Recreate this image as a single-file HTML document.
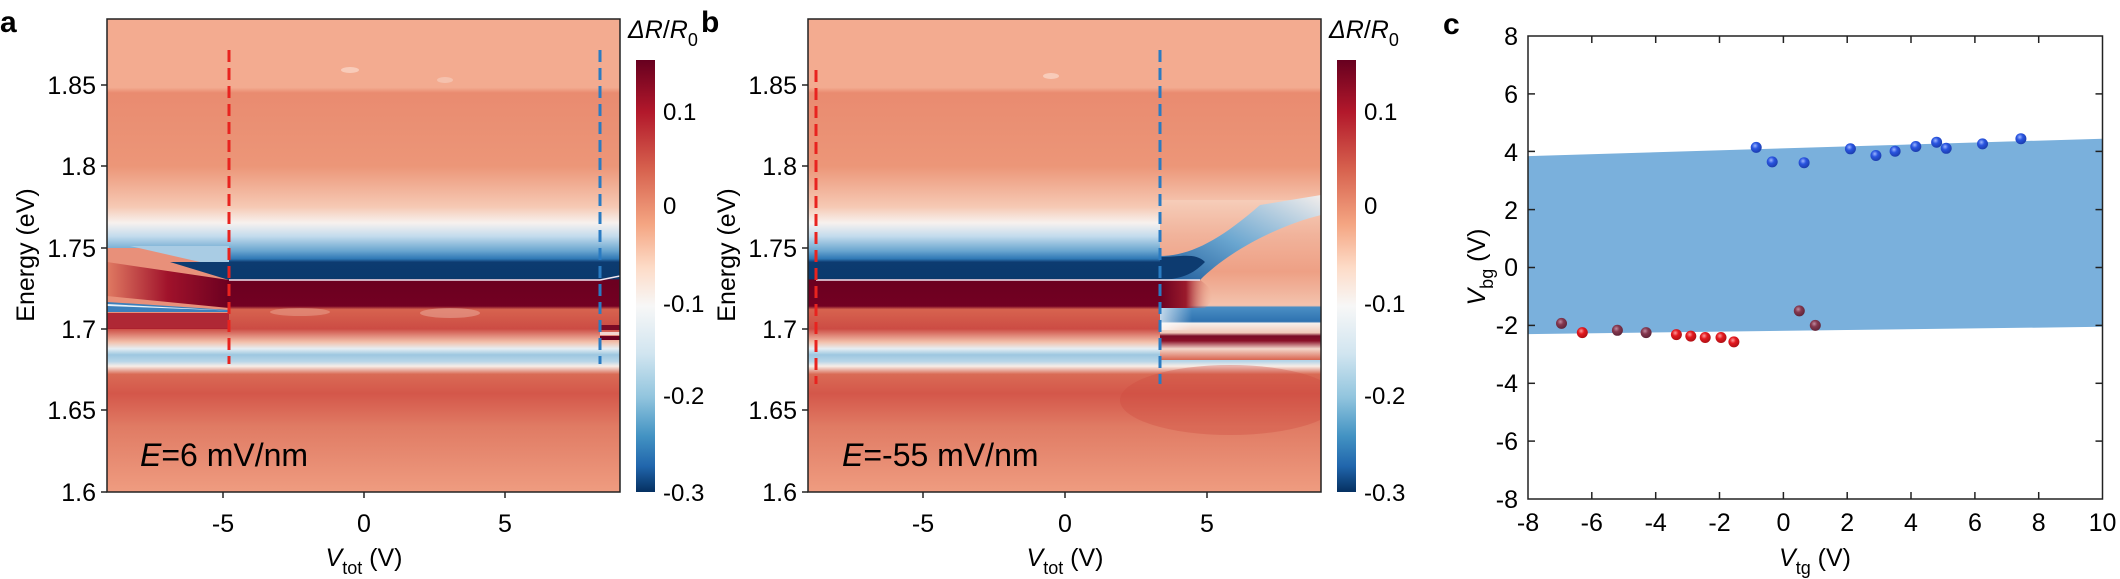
<!DOCTYPE html>
<html><head><meta charset="utf-8"><style>
html,body{margin:0;padding:0;background:#fff;}
svg{display:block;font-family:"Liberation Sans",Arial,sans-serif;}
</style></head><body>
<svg width="2120" height="579" viewBox="0 0 2120 579" xmlns="http://www.w3.org/2000/svg">
<defs>
<linearGradient id="prof" gradientUnits="userSpaceOnUse" x1="0" y1="19" x2="0" y2="492">
<stop offset="0" stop-color="#f3ab90"/>
<stop offset="0.145" stop-color="#f3ab90"/>
<stop offset="0.156" stop-color="#e98b70"/>
<stop offset="0.311" stop-color="#ec9678"/>
<stop offset="0.397" stop-color="#f6c9b4"/>
<stop offset="0.431" stop-color="#f7f1ee"/>
<stop offset="0.459" stop-color="#c4dced"/>
<stop offset="0.49" stop-color="#6aa6d0"/>
<stop offset="0.507" stop-color="#2f78b5"/>
<stop offset="0.514" stop-color="#0d3b70"/>
<stop offset="0.549" stop-color="#0a3a6d"/>
<stop offset="0.552" stop-color="#6b0020"/>
<stop offset="0.607" stop-color="#730022"/>
<stop offset="0.614" stop-color="#d7634f"/>
<stop offset="0.655" stop-color="#cc4c44"/>
<stop offset="0.683" stop-color="#f3c0ab"/>
<stop offset="0.697" stop-color="#e6eef3"/>
<stop offset="0.71" stop-color="#9dc7e0"/>
<stop offset="0.724" stop-color="#b8d6e8"/>
<stop offset="0.734" stop-color="#f7ede7"/>
<stop offset="0.751" stop-color="#d96b55"/>
<stop offset="0.792" stop-color="#d4574a"/>
<stop offset="0.862" stop-color="#e07b64"/>
<stop offset="1" stop-color="#ef9c80"/>
</linearGradient>
<linearGradient id="profR" gradientUnits="userSpaceOnUse" x1="0" y1="200" x2="0" y2="360">
<stop offset="0" stop-color="#f6cdb9"/>
<stop offset="0.22" stop-color="#f1b39b"/>
<stop offset="0.45" stop-color="#eea085"/>
<stop offset="0.66" stop-color="#f3c3ae"/>
<stop offset="0.67" stop-color="#4b8ec4"/>
<stop offset="0.76" stop-color="#2e72b0"/>
<stop offset="0.77" stop-color="#f5efec"/>
<stop offset="0.83" stop-color="#f1c9b8"/>
<stop offset="0.85" stop-color="#7a0a25"/>
<stop offset="0.88" stop-color="#8a1027"/>
<stop offset="0.93" stop-color="#f3d6ca"/>
<stop offset="1" stop-color="#d9654f"/>
</linearGradient>
<linearGradient id="fadeL" x1="0" y1="0" x2="1" y2="0">
<stop offset="0" stop-color="#fff" stop-opacity="0.7"/>
<stop offset="0.4" stop-color="#fff" stop-opacity="0"/>
</linearGradient>
<linearGradient id="cbar" x1="0" y1="0" x2="0" y2="1">
<stop offset="0" stop-color="#67001f"/>
<stop offset="0.12" stop-color="#b2182b"/>
<stop offset="0.25" stop-color="#d6604d"/>
<stop offset="0.38" stop-color="#f4a582"/>
<stop offset="0.48" stop-color="#fddbc7"/>
<stop offset="0.57" stop-color="#f7f7f7"/>
<stop offset="0.68" stop-color="#d1e5f0"/>
<stop offset="0.78" stop-color="#92c5de"/>
<stop offset="0.87" stop-color="#4393c3"/>
<stop offset="0.94" stop-color="#2166ac"/>
<stop offset="1" stop-color="#053061"/>
</linearGradient>
<linearGradient id="dredL" x1="0" y1="0" x2="1" y2="0">
<stop offset="0" stop-color="#e07a62"/>
<stop offset="0.5" stop-color="#a0122b"/>
<stop offset="1" stop-color="#6b0020"/>
</linearGradient>
<linearGradient id="dredR" x1="0" y1="0" x2="1" y2="0">
<stop offset="0" stop-color="#6b0020"/>
<stop offset="0.5" stop-color="#9a1a2c"/>
<stop offset="1" stop-color="#eea085" stop-opacity="0"/>
</linearGradient>
<linearGradient id="bcurve" x1="0" y1="1" x2="1" y2="0">
<stop offset="0" stop-color="#1d5a99"/>
<stop offset="0.45" stop-color="#6aa6d0"/>
<stop offset="1" stop-color="#f3eeec"/>
</linearGradient>
<radialGradient id="gb" cx="0.4" cy="0.35" r="0.7"><stop offset="0" stop-color="#9db6ff"/><stop offset="0.4" stop-color="#2a55e0"/><stop offset="1" stop-color="#1a3aa8"/></radialGradient>
<radialGradient id="gr" cx="0.4" cy="0.35" r="0.7"><stop offset="0" stop-color="#ff9a9a"/><stop offset="0.4" stop-color="#e3191f"/><stop offset="1" stop-color="#a80f14"/></radialGradient>
<radialGradient id="gp" cx="0.4" cy="0.35" r="0.7"><stop offset="0" stop-color="#c08aa0"/><stop offset="0.4" stop-color="#84384f"/><stop offset="1" stop-color="#5a2236"/></radialGradient>
<clipPath id="ca"><rect x="107" y="19" width="513" height="473"/></clipPath>
<clipPath id="cb"><rect x="808" y="19" width="513" height="473"/></clipPath>
</defs>

<!-- Panel a -->
<text x="0" y="32" font-size="30" font-weight="bold">a</text>
<g clip-path="url(#ca)">
<rect x="107" y="19" width="513" height="473" fill="url(#prof)"/>
<rect x="107" y="248" width="122" height="80" fill="#e8907a"/>
<polygon points="130,246 229,246 229,262 200,262" fill="#a9cce4"/>
<polygon points="170,262 229,262 229,280" fill="#0d3b70"/>
<polygon points="107,262 229,280 229,308 107,296" fill="url(#dredL)"/>
<polygon points="107,302 229,310 229,312 107,312" fill="#3b7fbb"/>
<polygon points="107,304 229,310.5 107,306" fill="#e9f1f7"/>
<rect x="107" y="313" width="122" height="16" fill="#a91d2d" opacity="0.9"/>
<line x1="229" y1="280" x2="600" y2="280" stroke="#f1e6f0" stroke-width="1.5"/>
<polyline points="600,280 620,276" stroke="#f1e6f0" stroke-width="1.5" fill="none"/>
<rect x="600" y="325" width="20" height="5" fill="#7a0a25"/>
<rect x="600" y="332" width="20" height="3" fill="#f3d6d0"/>
<rect x="600" y="336" width="20" height="4" fill="#6b0020"/>
<ellipse cx="300" cy="312" rx="30" ry="4" fill="#f0b8a4" opacity="0.4"/>
<ellipse cx="450" cy="313" rx="30" ry="5" fill="#f2c6b6" opacity="0.4"/>
<ellipse cx="350" cy="70" rx="9" ry="3" fill="#f9d8cb" opacity="0.7"/>
<ellipse cx="445" cy="80" rx="8" ry="3" fill="#f7d0c2" opacity="0.6"/>
</g>
<rect x="107" y="19" width="513" height="473" fill="none" stroke="#222" stroke-width="1.5"/>
<line x1="229" y1="50" x2="229" y2="364" stroke="#e8231f" stroke-width="3" stroke-dasharray="12,6"/>
<line x1="600" y1="50" x2="600" y2="364" stroke="#2a7bc2" stroke-width="3" stroke-dasharray="12,6"/>
<text x="140" y="466" font-size="32"><tspan font-style="italic">E</tspan>=6 mV/nm</text>
<g stroke="#222" stroke-width="1.5">
<line x1="101" y1="85" x2="107" y2="85"/><line x1="101" y1="166" x2="107" y2="166"/><line x1="101" y1="248" x2="107" y2="248"/><line x1="101" y1="329" x2="107" y2="329"/><line x1="101" y1="410" x2="107" y2="410"/><line x1="101" y1="492" x2="107" y2="492"/>
<line x1="223" y1="492" x2="223" y2="498"/><line x1="364" y1="492" x2="364" y2="498"/><line x1="505" y1="492" x2="505" y2="498"/>
</g>
<g font-size="25" text-anchor="end">
<text x="96" y="94">1.85</text><text x="96" y="175">1.8</text><text x="96" y="257">1.75</text><text x="96" y="338">1.7</text><text x="96" y="419">1.65</text><text x="96" y="501">1.6</text>
</g>
<g font-size="25" text-anchor="middle">
<text x="223" y="532">-5</text><text x="364" y="532">0</text><text x="505" y="532">5</text>
<text x="364" y="566"><tspan font-style="italic">V</tspan><tspan font-size="18" dy="8">tot</tspan><tspan dy="-8"> (V)</tspan></text>
</g>
<text transform="translate(34,255) rotate(-90)" font-size="25" text-anchor="middle">Energy (eV)</text>
<rect x="636" y="60" width="19" height="432" fill="url(#cbar)"/>
<text x="628" y="38" font-size="25"><tspan font-style="italic">ΔR</tspan>/<tspan font-style="italic">R</tspan><tspan font-size="18" dy="8">0</tspan></text>
<g font-size="24"><text x="663" y="120">0.1</text><text x="663" y="214">0</text><text x="663" y="312">-0.1</text><text x="663" y="404">-0.2</text><text x="663" y="501">-0.3</text></g>

<!-- Panel b -->
<text x="701" y="32" font-size="30" font-weight="bold">b</text>
<g clip-path="url(#cb)">
<rect x="808" y="19" width="513" height="473" fill="url(#prof)"/>
<rect x="1160" y="200" width="161" height="160" fill="url(#profR)"/>
<rect x="1160" y="300" width="80" height="30" fill="url(#fadeL)"/>
<path d="M1160,256 C1190,256 1220,240 1260,205 L1321,195 L1321,215 C1280,225 1230,250 1200,280 L1160,280 Z" fill="url(#bcurve)"/>
<path d="M1160,257 C1180,257 1195,252 1205,262 C1195,272 1185,279 1160,280 Z" fill="#0d3b70"/>
<path d="M1160,280 L1200,280 C1215,290 1215,300 1205,308 L1160,308 Z" fill="url(#dredR)"/>
<line x1="816" y1="280" x2="1200" y2="280" stroke="#f1e6f0" stroke-width="1.5"/>
<ellipse cx="1051" cy="76" rx="8" ry="3" fill="#f9d8cb" opacity="0.7"/>
<ellipse cx="1230" cy="400" rx="110" ry="35" fill="#cf4a40" opacity="0.35"/>
</g>
<rect x="808" y="19" width="513" height="473" fill="none" stroke="#222" stroke-width="1.5"/>
<line x1="816" y1="70" x2="816" y2="384" stroke="#e8231f" stroke-width="3" stroke-dasharray="12,6"/>
<line x1="1160" y1="50" x2="1160" y2="384" stroke="#2a7bc2" stroke-width="3" stroke-dasharray="12,6"/>
<text x="842" y="466" font-size="32"><tspan font-style="italic">E</tspan>=-55 mV/nm</text>
<g stroke="#222" stroke-width="1.5">
<line x1="802" y1="85" x2="808" y2="85"/><line x1="802" y1="166" x2="808" y2="166"/><line x1="802" y1="248" x2="808" y2="248"/><line x1="802" y1="329" x2="808" y2="329"/><line x1="802" y1="410" x2="808" y2="410"/><line x1="802" y1="492" x2="808" y2="492"/>
<line x1="923" y1="492" x2="923" y2="498"/><line x1="1065" y1="492" x2="1065" y2="498"/><line x1="1207" y1="492" x2="1207" y2="498"/>
</g>
<g font-size="25" text-anchor="end">
<text x="797" y="94">1.85</text><text x="797" y="175">1.8</text><text x="797" y="257">1.75</text><text x="797" y="338">1.7</text><text x="797" y="419">1.65</text><text x="797" y="501">1.6</text>
</g>
<g font-size="25" text-anchor="middle">
<text x="923" y="532">-5</text><text x="1065" y="532">0</text><text x="1207" y="532">5</text>
<text x="1065" y="566"><tspan font-style="italic">V</tspan><tspan font-size="18" dy="8">tot</tspan><tspan dy="-8"> (V)</tspan></text>
</g>
<text transform="translate(735,255) rotate(-90)" font-size="25" text-anchor="middle">Energy (eV)</text>
<rect x="1337" y="60" width="19" height="432" fill="url(#cbar)"/>
<text x="1329" y="38" font-size="25"><tspan font-style="italic">ΔR</tspan>/<tspan font-style="italic">R</tspan><tspan font-size="18" dy="8">0</tspan></text>
<g font-size="24"><text x="1364" y="120">0.1</text><text x="1364" y="214">0</text><text x="1364" y="312">-0.1</text><text x="1364" y="404">-0.2</text><text x="1364" y="501">-0.3</text></g>

<!-- Panel c -->
<text x="1443" y="34" font-size="30" font-weight="bold">c</text>
<polygon points="1528,156.1 2102.5,138.7 2102.5,326.8 1528,334.1" fill="#7ab0dc"/>
<rect x="1528" y="36" width="574.5" height="463" fill="none" stroke="#222" stroke-width="1.5"/>
<g stroke="#222" stroke-width="1.5">
<line x1="1528" y1="93.9" x2="1535" y2="93.9"/><line x1="1528" y1="151.4" x2="1535" y2="151.4"/><line x1="1528" y1="209.6" x2="1535" y2="209.6"/><line x1="1528" y1="267.5" x2="1535" y2="267.5"/><line x1="1528" y1="325.4" x2="1535" y2="325.4"/><line x1="1528" y1="383.3" x2="1535" y2="383.3"/><line x1="1528" y1="441.1" x2="1535" y2="441.1"/>
<line x1="2095.5" y1="93.9" x2="2102.5" y2="93.9"/><line x1="2095.5" y1="151.4" x2="2102.5" y2="151.4"/><line x1="2095.5" y1="209.6" x2="2102.5" y2="209.6"/><line x1="2095.5" y1="267.5" x2="2102.5" y2="267.5"/><line x1="2095.5" y1="325.4" x2="2102.5" y2="325.4"/><line x1="2095.5" y1="383.3" x2="2102.5" y2="383.3"/><line x1="2095.5" y1="441.1" x2="2102.5" y2="441.1"/>
<line x1="1591.8" y1="499" x2="1591.8" y2="492"/><line x1="1655.7" y1="499" x2="1655.7" y2="492"/><line x1="1719.5" y1="499" x2="1719.5" y2="492"/><line x1="1783.4" y1="499" x2="1783.4" y2="492"/><line x1="1847.2" y1="499" x2="1847.2" y2="492"/><line x1="1911" y1="499" x2="1911" y2="492"/><line x1="1974.9" y1="499" x2="1974.9" y2="492"/><line x1="2038.7" y1="499" x2="2038.7" y2="492"/>
<line x1="1591.8" y1="36" x2="1591.8" y2="43"/><line x1="1655.7" y1="36" x2="1655.7" y2="43"/><line x1="1719.5" y1="36" x2="1719.5" y2="43"/><line x1="1783.4" y1="36" x2="1783.4" y2="43"/><line x1="1847.2" y1="36" x2="1847.2" y2="43"/><line x1="1911" y1="36" x2="1911" y2="43"/><line x1="1974.9" y1="36" x2="1974.9" y2="43"/><line x1="2038.7" y1="36" x2="2038.7" y2="43"/>
</g>
<g font-size="25" text-anchor="end">
<text x="1518" y="45">8</text><text x="1518" y="103">6</text><text x="1518" y="161">4</text><text x="1518" y="219">2</text><text x="1518" y="276">0</text><text x="1518" y="334">-2</text><text x="1518" y="392">-4</text><text x="1518" y="450">-6</text><text x="1518" y="508">-8</text>
</g>
<g font-size="25" text-anchor="middle">
<text x="1528" y="531">-8</text><text x="1591.8" y="531">-6</text><text x="1655.7" y="531">-4</text><text x="1719.5" y="531">-2</text><text x="1783.4" y="531">0</text><text x="1847.2" y="531">2</text><text x="1911" y="531">4</text><text x="1974.9" y="531">6</text><text x="2038.7" y="531">8</text><text x="2102.5" y="531">10</text>
<text x="1815" y="566"><tspan font-style="italic">V</tspan><tspan font-size="18" dy="8">tg</tspan><tspan dy="-8"> (V)</tspan></text>
</g>
<text transform="translate(1485,267) rotate(-90)" font-size="25" text-anchor="middle"><tspan font-style="italic">V</tspan><tspan font-size="18" dy="8">bg</tspan><tspan dy="-8"> (V)</tspan></text>
<g>
<circle cx="1756.2" cy="147.4" r="5.5" fill="url(#gb)"/><circle cx="1772.2" cy="161.9" r="5.5" fill="url(#gb)"/><circle cx="1804.1" cy="162.7" r="5.5" fill="url(#gb)"/><circle cx="1850.4" cy="148.8" r="5.5" fill="url(#gb)"/><circle cx="1875.9" cy="155.5" r="5.5" fill="url(#gb)"/><circle cx="1895.1" cy="151.2" r="5.5" fill="url(#gb)"/><circle cx="1915.8" cy="146.5" r="5.5" fill="url(#gb)"/><circle cx="1936.6" cy="142.2" r="5.5" fill="url(#gb)"/><circle cx="1946.2" cy="148.3" r="5.5" fill="url(#gb)"/><circle cx="1982.5" cy="143.9" r="5.5" fill="url(#gb)"/><circle cx="2020.9" cy="138.7" r="5.5" fill="url(#gb)"/>
<circle cx="1561.5" cy="323.4" r="5.5" fill="url(#gp)"/><circle cx="1582.3" cy="332.6" r="5.5" fill="url(#gr)"/><circle cx="1617.4" cy="330.3" r="5.5" fill="url(#gp)"/><circle cx="1646.1" cy="332.6" r="5.5" fill="url(#gp)"/><circle cx="1676.4" cy="334.6" r="5.5" fill="url(#gr)"/><circle cx="1690.8" cy="336.1" r="5.5" fill="url(#gr)"/><circle cx="1705.2" cy="337.5" r="5.5" fill="url(#gr)"/><circle cx="1721" cy="337.5" r="5.5" fill="url(#gr)"/><circle cx="1733.9" cy="341.9" r="5.5" fill="url(#gr)"/><circle cx="1799.3" cy="310.9" r="5.5" fill="url(#gp)"/><circle cx="1815.3" cy="325.4" r="5.5" fill="url(#gp)"/>
</g>
</svg>
</body></html>
